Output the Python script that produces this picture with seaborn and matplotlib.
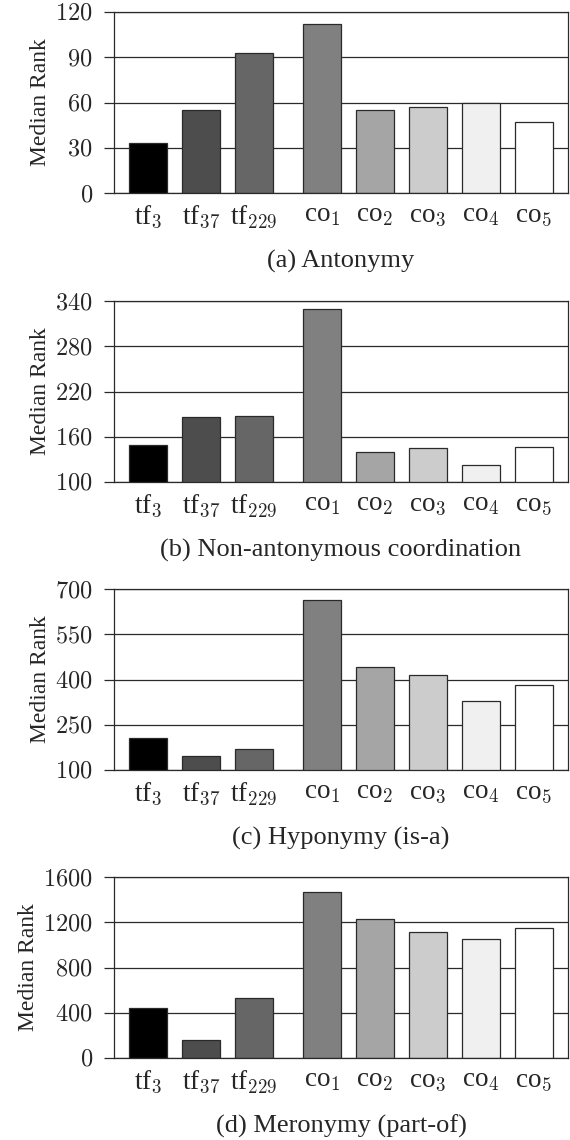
import numpy as np
import pandas as pd
import matplotlib
matplotlib.use("Agg")
import matplotlib.pyplot as plt
import seaborn as sns

# ---- data ----
labels = [r"tf$_{3}$", r"tf$_{37}$", r"tf$_{229}$", r"co$_{1}$",
          r"co$_{2}$", r"co$_{3}$", r"co$_{4}$", r"co$_{5}$"]
antonymy = [33, 55, 93, 112, 55, 57, 60, 47]
coordination = [149, 186, 188, 329, 140, 145, 122, 146]
hyponymy = [206, 146, 168, 662, 442, 414, 328, 381]
meronymy = [440, 156, 534, 1471, 1233, 1113, 1051, 1151]
captions = ["(a) Antonymy", "(b) Non-antonymous coordination",
            "(c) Hyponymy (is-a)", "(d) Meronymy (part-of)"]
y_ticks = [[0, 30, 60, 90, 120], [100, 160, 220, 280, 340],
           [100, 250, 400, 550, 700], [0, 400, 800, 1200, 1600]]
colors = ["#000000", "#4d4d4d", "#666666", "#808080",
          "#a5a5a5", "#cccccc", "#f0f0f0", "#ffffff"]

sns.set_theme(style="white")
plt.rcParams["font.family"] = ["Liberation Serif", "DejaVu Serif"]
plt.rcParams["mathtext.fontset"] = "cm"
plt.rcParams["mathtext.rm"] = "Liberation Serif"

W, H = 570, 1140
fig = plt.figure(figsize=(W / 100, H / 100), dpi=100)

series = [antonymy, coordination, hyponymy, meronymy]
tops = [12, 301, 589, 877]
ax_h = 181
left, right = 114, 568

idx = np.arange(len(labels))
pos = idx + 0.28 * (idx >= 3)
gridc = "#2a2a2a"

for k, vals in enumerate(series):
    ax = fig.add_axes([left / W, 1 - (tops[k] + ax_h) / H, (right - left) / W, ax_h / H])
    df = pd.DataFrame({"pos": pos, "val": vals, "label": labels})
    sns.barplot(data=df, x="pos", y="val", hue="label", palette=colors,
                native_scale=True, width=0.72, legend=False, dodge=False,
                edgecolor="#2a2a2a", linewidth=0.9, ax=ax, saturation=1)
    ax.set_axisbelow(True)
    yt = y_ticks[k]
    ax.set_ylim(yt[0], yt[-1])
    ax.set_yticks(yt)
    ax.set_yticklabels([rf"${v}$" for v in yt], fontsize=17.5)
    ax.yaxis.grid(True, color=gridc, linewidth=0.9)
    ax.set_xlim(-0.64, pos[-1] + 0.64)
    ax.set_xticks(pos)
    ax.set_xticklabels(labels, fontsize=19.5)
    ax.tick_params(axis="x", length=0, pad=7)
    ax.tick_params(axis="y", length=7.2, width=0.9, color=gridc, pad=8, direction="out", left=True)
    for s in ax.spines.values():
        s.set_visible(True)
        s.set_color(gridc)
        s.set_linewidth(0.9)
    ax.set_xlabel("")
    ax.set_ylabel("Median Rank", fontsize=17, labelpad=3)
    ax.text(0.5, -0.38, captions[k], transform=ax.transAxes, ha="center", va="center",
            fontsize=19)

fig.savefig("out.png", dpi=100)
